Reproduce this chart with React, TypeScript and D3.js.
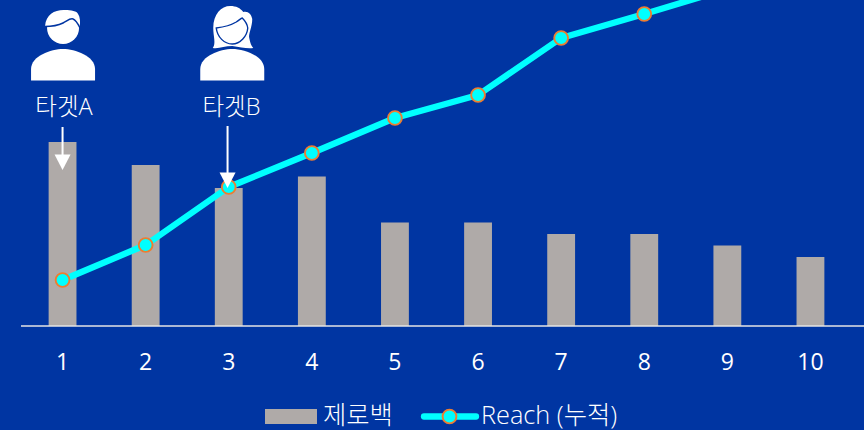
import React from "react";
import * as d3 from "d3";

const categories = ["1", "2", "3", "4", "5", "6", "7", "8", "9", "10"];
const frequency = [16, 14, 12, 13, 9, 9, 8, 8, 7, 6];
const reach = [46, 81, 139, 173, 208, 231, 288, 312, 337, 358];
const legendBar = "제로백";
const legendLine = "Reach (누적)";
const targets = [
  { label: "타겟A", cat: "1", arrowTop: 127, arrowTip: 170, kind: "m", iconDx: 0.5, textX: 64 },
  { label: "타겟B", cat: "3", arrowTop: 126, arrowTip: 188, kind: "f", iconDx: 3.5, textX: 231.5 },
];

const W = 864, H = 430;
const BG = "#0035a2", BAR = "#afaaa8", CY = "#00ffff", OR = "#ed7d31";
const FONT = "'Open Sans','Noto Sans CJK KR',sans-serif";

function Person({ cx, kind }: { cx: number; kind: string }) {
  const body = "M-32,80.5 L-32,69 C-32,56 -12,49 0,49 C12,49 32,56 32,69 L32,80.5 Z";
  return (
    <g transform={`translate(${cx},0)`} fill="#fff">
      {kind === "m" ? (
        <g>
          <circle cx={0} cy={28} r={16} />
          <path d="M-18,26 C-17,14 -8,9.5 2,10 C8,10 14,11 15,14 C17,17 17.5,22 16.5,27 Z" />
          <path d="M-18.5,26.5 C-10,26.5 -4,25 0,23 C4,21 7,18 10,19 C13,20 15,24 17,28" fill="none" stroke={BG} strokeWidth={1.5} />
        </g>
      ) : (
        <g>
          <path d="M-19.5,48 C-16,44 -19,36 -19,28 C-19,14 -11,6 -2,6 C4,6 8,8 11,12 C16,11 19,14 20,19 C20,27 16,34 17,38 C18,43 19,46 21,48 C15,49 8,47 0,46 C-8,46 -13,49 -19.5,48 Z" />
          <path d="M-16,28 C-8,27 -1,25 4,22 C7,20 9,18 10,18 C13,21 15,24 15.5,28 C15,36 8,44 0,44 C-8,44 -15,37 -16,28 Z" stroke={BG} strokeWidth={1.4} />
        </g>
      )}
      <path d={body} />
    </g>
  );
}

export default function App() {
  const x = d3.scaleBand<string>().domain(categories).range([21, 852]).paddingInner(0.665).paddingOuter(0.3325);
  const baseline = 326;
  const yBar = d3.scaleLinear().domain([0, 16]).range([baseline, 142]);
  const yLine = d3.scaleLinear().domain([0, 300]).range([baseline, baseline - 300]);
  const cx = (c: string) => (x(c) as number) + x.bandwidth() / 2;
  const line = d3.line<number>().x((_, i) => cx(categories[i])).y((d) => yLine(d));

  return (
    <svg width={W} height={H} viewBox={`0 0 ${W} ${H}`} style={{ position: "fixed", left: 0, top: 0, background: BG }} fontFamily={FONT}>
      <rect width={W} height={H} fill={BG} />
      {categories.map((c, i) => (
        <rect key={c} x={x(c)} y={yBar(frequency[i])} width={x.bandwidth()} height={baseline - yBar(frequency[i])} fill={BAR} />
      ))}
      <line x1={21} x2={864} y1={baseline} y2={baseline} stroke="#e4e4e4" strokeWidth={1.6} />
      <path d={line(reach) as string} fill="none" stroke={CY} strokeWidth={6.3} strokeLinejoin="round" />
      {reach.map((r, i) => (
        <circle key={i} cx={cx(categories[i])} cy={yLine(r)} r={6.9} fill={CY} stroke={OR} strokeWidth={1.9} />
      ))}
      {categories.map((c) => (
        <text key={c} x={cx(c)} y={370} textAnchor="middle" fontSize={23} fontWeight={400} fill="#fff">{c}</text>
      ))}
      {targets.map((t) => {
        const tx = cx(t.cat) - (t.kind === "f" ? 1.2 : 0);
        return (
          <g key={t.label}>
            <Person cx={cx(t.cat) + t.iconDx} kind={t.kind} />
            <text x={t.textX} y={115} textAnchor="middle" fontSize={23.5} fontWeight={300} fill="#fff">{t.label}</text>
            <line x1={tx} x2={tx} y1={t.arrowTop} y2={t.arrowTip - 14} stroke="#fff" strokeWidth={2} />
            <path d={`M${tx - 8},${t.arrowTip - 15.5} L${tx + 8},${t.arrowTip - 15.5} L${tx},${t.arrowTip} Z`} fill="#fff" />
          </g>
        );
      })}
      <rect x={265} y={409} width={52} height={15} fill={BAR} />
      <text x={323} y={424} fontSize={25.3} fontWeight={300} fill="#fff">{legendBar}</text>
      <line x1={424} x2={476} y1={416.5} y2={416.5} stroke={CY} strokeWidth={6.3} strokeLinecap="round" />
      <circle cx={449.5} cy={416.5} r={6.9} fill={CY} stroke={OR} strokeWidth={1.9} />
      <text x={481} y={424} fontSize={25.3} fontWeight={300} fill="#fff">{legendLine}</text>
    </svg>
  );
}
